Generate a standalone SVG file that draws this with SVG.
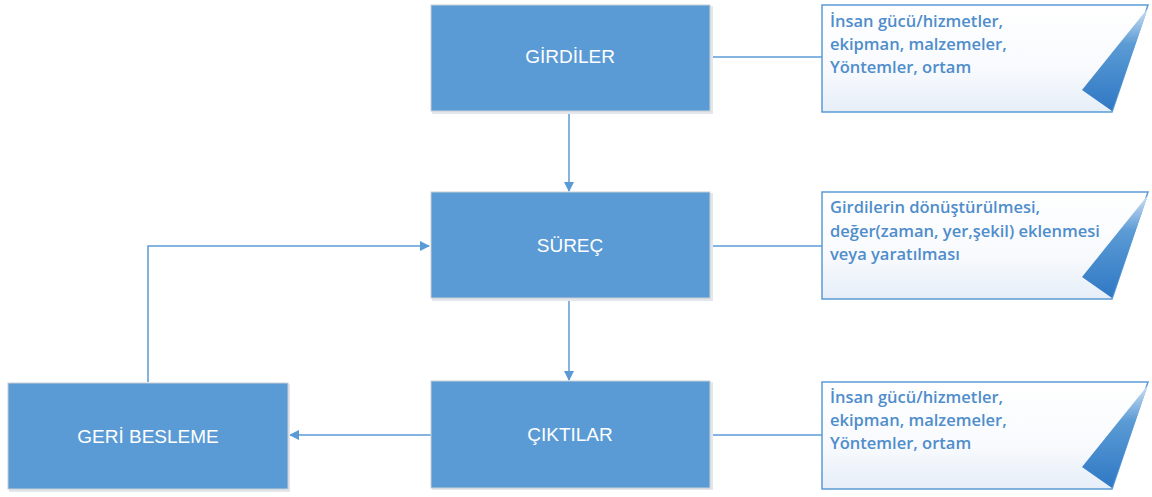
<svg xmlns="http://www.w3.org/2000/svg" width="1152" height="497" viewBox="0 0 1152 497">
  <style>
    .box { fill: #5B9BD5; stroke: #C9CED4; stroke-width: 1; }
    .box-shadow { fill: #E3E6EA; }
    .label { font-family: "Liberation Sans", Arial, sans-serif; font-size: 19px; fill: #FFFFFF; text-anchor: middle; }
    .note { fill: url(#noteFill); stroke: #5B9BD5; stroke-width: 1.5; }
    .note-text { font-family: "Open Sans", "Liberation Sans", sans-serif; font-size: 16.5px; font-weight: 600; fill: #4F8DCB; }
    .line { stroke: #5B9BD5; stroke-width: 1.5; fill: none; }
    .arrow { stroke: #5B9BD5; stroke-width: 1.5; fill: none; marker-end: url(#head); }
  </style>
  <defs>
    <marker id="head" viewBox="0 0 10 10" refX="9" refY="5" markerWidth="7" markerHeight="7" markerUnits="strokeWidth" orient="auto">
      <path d="M0,0 L10,5 L0,10 z" fill="#5B9BD5"/>
    </marker>
    <linearGradient id="noteFill" x1="0" y1="0" x2="0" y2="1">
      <stop offset="0" stop-color="#FFFFFF"/>
      <stop offset="0.6" stop-color="#F8FAFD"/>
      <stop offset="1" stop-color="#E6EEF8"/>
    </linearGradient>
    <linearGradient id="foldFill" x1="0" y1="0" x2="0" y2="1">
      <stop offset="0" stop-color="#CFE0F3"/>
      <stop offset="0.35" stop-color="#5B9BD5"/>
      <stop offset="1" stop-color="#2F78C4"/>
    </linearGradient>
  </defs>

  <!-- connectors -->
  <g id="connectors">
    <line class="line" x1="710" y1="57" x2="822" y2="57"/>
    <line class="line" x1="710" y1="246" x2="822" y2="246"/>
    <line class="line" x1="710" y1="435" x2="822" y2="435"/>
    <line class="arrow" x1="569" y1="111" x2="569" y2="191"/>
    <line class="arrow" x1="569" y1="298" x2="569" y2="380"/>
    <line class="arrow" x1="431" y1="435" x2="290" y2="435"/>
    <polyline class="arrow" points="148,382 148,246 429,246"/>
  </g>

  <!-- process boxes -->
  <g id="girdiler">
    <rect class="box-shadow" x="432" y="6" width="281" height="108"/>
    <rect class="box" x="431" y="5" width="279" height="106"/>
    <text class="label" x="570" y="63">GİRDİLER</text>
  </g>
  <g id="surec">
    <rect class="box-shadow" x="432" y="193" width="281" height="108"/>
    <rect class="box" x="431" y="192" width="279" height="106"/>
    <text class="label" x="570" y="252">SÜREÇ</text>
  </g>
  <g id="ciktilar">
    <rect class="box-shadow" x="432" y="382" width="281" height="108"/>
    <rect class="box" x="431" y="381" width="279" height="107"/>
    <text class="label" x="570" y="441">ÇIKTILAR</text>
  </g>
  <g id="geri-besleme">
    <rect class="box-shadow" x="9" y="384" width="281" height="108"/>
    <rect class="box" x="8" y="383" width="280" height="106"/>
    <text class="label" x="148" y="443">GERİ BESLEME</text>
  </g>

  <!-- notes with folded corner -->
  <g id="note-girdiler">
    <path class="note" d="M822,5 H1148 L1112,112 H822 Z"/>
    <path d="M1148,8 L1082,90 L1112,111 Z" fill="url(#foldFill)"/>
    <text class="note-text" x="830" y="27">İnsan gücü/hizmetler,</text>
    <text class="note-text" x="830" y="50">ekipman, malzemeler,</text>
    <text class="note-text" x="830" y="73">Yöntemler, ortam</text>
  </g>
  <g id="note-surec">
    <path class="note" d="M822,192 H1148 L1112,299 H822 Z"/>
    <path d="M1148,195 L1082,277 L1112,298 Z" fill="url(#foldFill)"/>
    <text class="note-text" x="830" y="213">Girdilerin dönüştürülmesi,</text>
    <text class="note-text" x="830" y="237">değer(zaman, yer,şekil) eklenmesi</text>
    <text class="note-text" x="830" y="260">veya yaratılması</text>
  </g>
  <g id="note-ciktilar">
    <path class="note" d="M822,382 H1148 L1112,489 H822 Z"/>
    <path d="M1148,385 L1082,467 L1112,488 Z" fill="url(#foldFill)"/>
    <text class="note-text" x="830" y="403">İnsan gücü/hizmetler,</text>
    <text class="note-text" x="830" y="426">ekipman, malzemeler,</text>
    <text class="note-text" x="830" y="449">Yöntemler, ortam</text>
  </g>
</svg>
